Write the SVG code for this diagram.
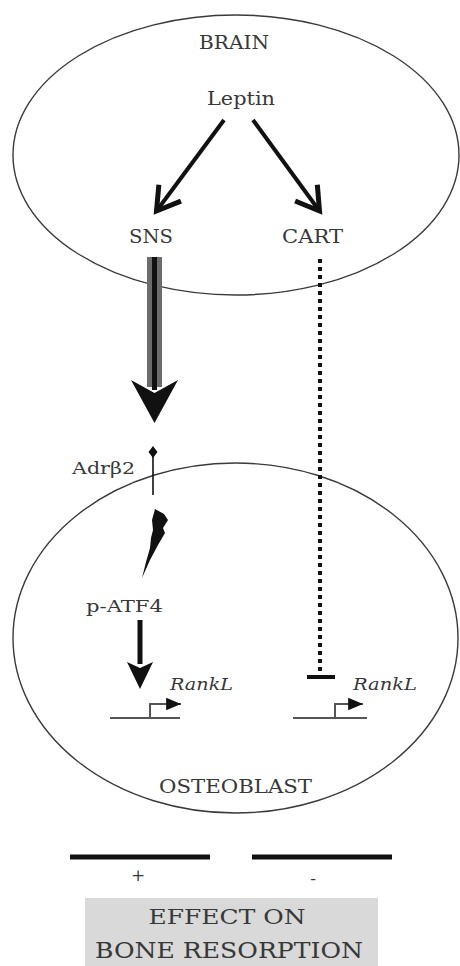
<svg xmlns="http://www.w3.org/2000/svg" width="460" height="966" viewBox="0 0 460 966">
<style>
text{font-family:"DejaVu Serif","Liberation Serif",serif;fill:#383838}
.cell{fill:none;stroke:#3a3a3a;stroke-width:1.4}
.arr{stroke:#111;stroke-width:4;fill:none}
.prom{stroke:#555;stroke-width:2;fill:none}
.bar{stroke:#111;stroke-width:5}
.it{font-style:italic}
</style>
<defs>
<marker id="vee" markerUnits="userSpaceOnUse" markerWidth="40" markerHeight="40" viewBox="-24 -16 30 32" refX="0" refY="0" orient="auto">
<path d="M-18,-11 L0,0 L-18,11" fill="none" stroke="#111" stroke-width="4" stroke-linejoin="miter"/>
</marker>
<marker id="tri" markerUnits="userSpaceOnUse" markerWidth="16" markerHeight="14" viewBox="-13 -6 14 12" refX="0" refY="0" orient="auto">
<path d="M-13,-5.5 L0,0 L-13,5.5 Z" fill="#111"/>
</marker>
</defs>
<rect width="460" height="966" fill="#fff"/>

<g id="brain">
<ellipse class="cell" cx="236" cy="155" rx="223" ry="140"/>
<text x="234" y="49" text-anchor="middle" font-size="18" textLength="70" lengthAdjust="spacingAndGlyphs">BRAIN</text>
</g>
<g id="leptin"><text x="241" y="105" text-anchor="middle" font-size="18" textLength="68" lengthAdjust="spacingAndGlyphs">Leptin</text></g>
<g id="sns"><text x="151" y="243" text-anchor="middle" font-size="18" textLength="44" lengthAdjust="spacingAndGlyphs">SNS</text></g>
<g id="cart"><text x="312.5" y="243" text-anchor="middle" font-size="18" textLength="61" lengthAdjust="spacingAndGlyphs">CART</text></g>

<g id="osteoblast">
<ellipse class="cell" cx="235.5" cy="638" rx="222.5" ry="175"/>
<text x="235.5" y="793" text-anchor="middle" font-size="19" textLength="153" lengthAdjust="spacingAndGlyphs">OSTEOBLAST</text>
</g>
<g id="adrb2">
<text x="103.5" y="474" text-anchor="middle" font-size="16" textLength="63" lengthAdjust="spacingAndGlyphs">Adrβ2</text>
<line x1="153" y1="455" x2="153" y2="495" stroke="#111" stroke-width="1.6"/>
<path d="M153,446 L157.5,452 L153,458 L148.5,452 Z" fill="#111"/>
</g>
<g id="patf4"><text x="124.5" y="612" text-anchor="middle" font-size="17" textLength="77" lengthAdjust="spacingAndGlyphs">p-ATF4</text></g>
<g id="rankl-left">
<text class="it" x="201.5" y="690" text-anchor="middle" font-size="16" textLength="63" lengthAdjust="spacingAndGlyphs">RankL</text>
<line class="prom" x1="110" y1="718" x2="180" y2="718"/>
<polyline class="prom" points="150,718 150,704 181,704" marker-end="url(#tri)"/>
</g>
<g id="rankl-right">
<text class="it" x="385" y="690" text-anchor="middle" font-size="16" textLength="64" lengthAdjust="spacingAndGlyphs">RankL</text>
<line class="prom" x1="293" y1="718" x2="367" y2="718"/>
<polyline class="prom" points="335,718 335,704 363,704" marker-end="url(#tri)"/>
</g>
<g id="effect">
<rect x="85" y="898" width="293" height="68" fill="#d9d9d9"/>
<text x="227" y="924" text-anchor="middle" font-size="21" textLength="157" lengthAdjust="spacingAndGlyphs">EFFECT ON</text>
<text x="229" y="958" text-anchor="middle" font-size="22" textLength="268" lengthAdjust="spacingAndGlyphs">BONE RESORPTION</text>
</g>
<g id="effect-plus">
<line class="bar" x1="70" y1="857" x2="210" y2="857"/>
<text x="138" y="881" text-anchor="middle" font-size="17">+</text>
</g>
<g id="effect-minus">
<line class="bar" x1="252" y1="857" x2="392" y2="857"/>
<text x="313" y="884" text-anchor="middle" font-size="17">-</text>
</g>

<g id="connectors">
<line class="arr" x1="224" y1="120" x2="156.5" y2="211" marker-end="url(#vee)"/>
<line class="arr" x1="253" y1="120" x2="319.5" y2="211" marker-end="url(#vee)"/>
<rect x="147" y="257" width="15" height="130" fill="#6c6c6c"/>
<line x1="154.5" y1="257" x2="154.5" y2="390" stroke="#111" stroke-width="5"/>
<path d="M131,380 L154.5,393 L178,380 L154.5,423 Z" fill="#111"/>
<path d="M155,509 L164,514 L168,520 L163,528 L165,533 L158,545 L150,560 L142,578 L146,562 L150,548 L151,538 L153,530 L152,520 Z" fill="#111"/>
<line x1="140" y1="620" x2="140" y2="664" stroke="#111" stroke-width="5"/>
<path d="M127,662 L140,689 L153,662 L140,668 Z" fill="#111"/>
<line x1="320" y1="259" x2="320" y2="673" stroke="#111" stroke-width="4" stroke-dasharray="4 4"/>
<line x1="307" y1="677" x2="335" y2="677" stroke="#111" stroke-width="4"/>
</g>
</svg>
